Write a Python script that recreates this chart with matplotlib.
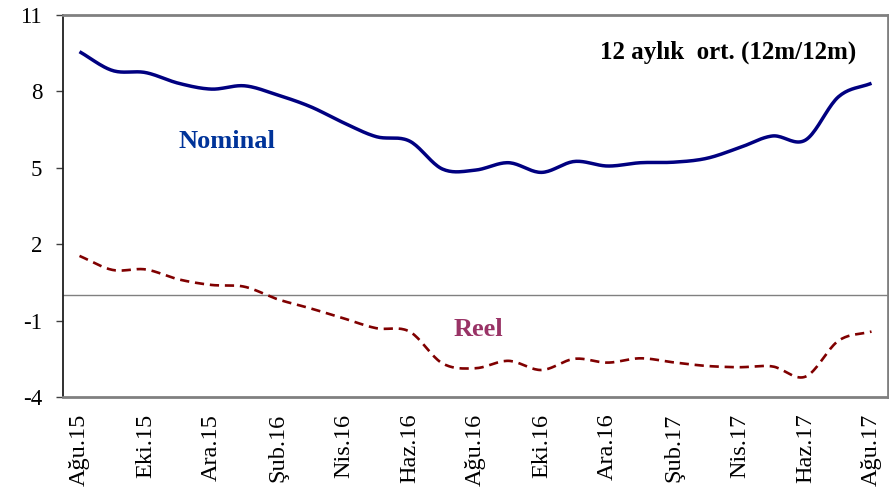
import numpy as np
import matplotlib
matplotlib.use("Agg")
import matplotlib.pyplot as plt

months = ["Ağu.15", "Eyl.15", "Eki.15", "Kas.15", "Ara.15", "Oca.16", "Şub.16", "Mar.16",
          "Nis.16", "May.16", "Haz.16", "Tem.16", "Ağu.16", "Eyl.16", "Eki.16", "Kas.16",
          "Ara.16", "Oca.17", "Şub.17", "Mar.17", "Nis.17", "May.17", "Haz.17", "Tem.17",
          "Ağu.17"]
nominal = [9.56, 8.82, 8.74, 8.32, 8.09, 8.22, 7.86, 7.40, 6.77, 6.22, 6.05, 4.95, 4.91,
           5.20, 4.82, 5.25, 5.07, 5.20, 5.22, 5.37, 5.79, 6.25, 6.09, 7.79, 8.32]
reel = [1.54, 0.99, 1.01, 0.62, 0.40, 0.33, -0.16, -0.52, -0.91, -1.30, -1.43, -2.68, -2.87,
        -2.58, -2.94, -2.50, -2.65, -2.48, -2.64, -2.78, -2.83, -2.80, -3.20, -1.79, -1.43]
yticks = [-4, -1, 2, 5, 8, 11]


def smooth(y, n=20):
    """Catmull-Rom spline through the points (similar to Excel smoothed lines)."""
    y = np.asarray(y, dtype=float)
    x = np.arange(len(y), dtype=float)
    px = np.concatenate([[2 * x[0] - x[1]], x, [2 * x[-1] - x[-2]]])
    py = np.concatenate([[2 * y[0] - y[1]], y, [2 * y[-1] - y[-2]]])
    xs, ys = [], []
    t = np.linspace(0, 1, n, endpoint=False)
    for i in range(1, len(px) - 2):
        p0, p1, p2, p3 = py[i - 1], py[i], py[i + 1], py[i + 2]
        q0, q1, q2, q3 = px[i - 1], px[i], px[i + 1], px[i + 2]
        f = lambda a0, a1, a2, a3: 0.5 * ((2 * a1) + (-a0 + a2) * t +
                                          (2 * a0 - 5 * a1 + 4 * a2 - a3) * t ** 2 +
                                          (-a0 + 3 * a1 - 3 * a2 + a3) * t ** 3)
        xs.append(f(q0, q1, q2, q3))
        ys.append(f(p0, p1, p2, p3))
    xs.append([x[-1]])
    ys.append([y[-1]])
    return np.concatenate(xs), np.concatenate(ys)


plt.rcParams['font.family'] = ['Liberation Serif', 'DejaVu Serif']

W, H = 889, 493
fig = plt.figure(figsize=(W / 100, H / 100), dpi=100)
ax = fig.add_axes([63 / W, 1 - 397 / H, 825 / W, 382 / H])

ax.axhline(0, color="#808080", lw=1.0, zorder=1)

xn, yn = smooth(nominal)
ax.plot(xn, yn, color="#000080", lw=2.5, solid_capstyle="butt", zorder=3)
xr, yr = smooth(reel)
ax.plot(xr, yr, color="#800000", lw=1.9, linestyle=(0, (3.5, 2.2)), zorder=3)

ax.set_xlim(-0.5, len(months) - 0.5)
ax.set_ylim(-4, 11)
ax.set_yticks(yticks)
ax.set_yticklabels([str(v) for v in yticks])
idx = list(range(0, len(months), 2))
ax.set_xticks(idx)
ax.set_xticklabels([months[i] for i in idx], rotation=90)

ax.tick_params(axis="y", labelsize=16.5, length=5, width=1.0, color="#404040", pad=10)
ax.tick_params(axis="x", labelsize=17.5, length=0, pad=12)

for s in ["top", "right", "bottom"]:
    ax.spines[s].set_color("#808080")
    ax.spines[s].set_linewidth(2.0)
ax.spines["left"].set_color("#202020")
ax.spines["left"].set_linewidth(1.3)

fig.text(227 / W, 1 - 141 / H, "Nominal", fontsize=19, fontweight="bold",
         color="#003399", ha="center", va="center")
fig.text(478 / W, 1 - 330 / H, "Reel", fontsize=19, fontweight="bold",
         color="#993366", ha="center", va="center")
fig.text(728 / W, 1 - 52 / H, "12 aylık  ort. (12m/12m)", fontsize=18, fontweight="bold",
         color="black", ha="center", va="center")

fig.savefig("out.png", dpi=100)
